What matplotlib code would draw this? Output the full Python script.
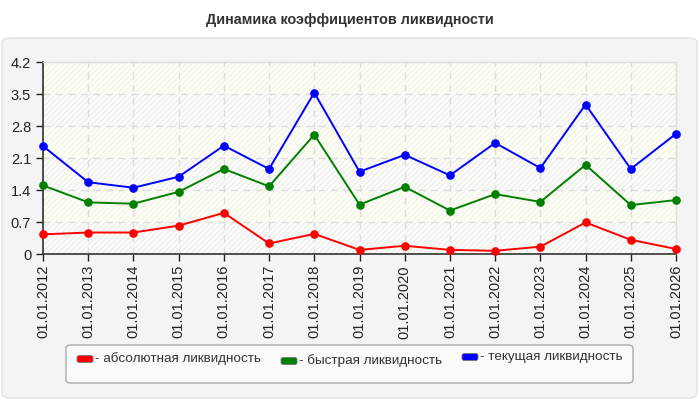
import matplotlib
matplotlib.use("Agg")
import matplotlib.pyplot as plt
from matplotlib.patches import FancyBboxPatch
import matplotlib as mpl

plt.rcParams['font.family'] = ['Liberation Sans', 'DejaVu Sans']
mpl.rcParams['hatch.linewidth'] = 0.6

title = "Динамика коэффициентов ликвидности"
dates = ["01.01.%d" % y for y in range(2012, 2027)]
absolute = [0.43, 0.47, 0.47, 0.62, 0.90, 0.23, 0.44, 0.09, 0.18, 0.09, 0.07, 0.16, 0.69, 0.31, 0.11]
quick = [1.50, 1.13, 1.10, 1.36, 1.86, 1.48, 2.61, 1.08, 1.47, 0.95, 1.31, 1.14, 1.95, 1.07, 1.18]
current = [2.36, 1.57, 1.45, 1.69, 2.37, 1.86, 3.53, 1.80, 2.17, 1.72, 2.43, 1.88, 3.27, 1.86, 2.63]
series_names = ["- абсолютная ликвидность", "- быстрая ликвидность", "- текущая ликвидность"]
yticks = [0, 0.7, 1.4, 2.1, 2.8, 3.5, 4.2]
ytick_labels = ["0", "0.7", "1.4", "2.1", "2.8", "3.5", "4.2"]

fig = plt.figure(figsize=(7, 4), dpi=100)
fig.patch.set_facecolor('white')

# panel
panel = FancyBboxPatch((2/700, 2/400), 695/700, 360/400,
                       boxstyle="round,pad=0,rounding_size=0.012",
                       transform=fig.transFigure, facecolor='#f4f4f4',
                       edgecolor='#e2e2e2', linewidth=1.0, zorder=-5)
fig.patches.append(panel)

fig.text(0.5, 1 - 20/400, title, ha='center', va='center', fontsize=10.4,
         fontweight='bold', color='#333333')

ax = fig.add_axes([43/700, 1 - 254/400, 633/700, 192/400])
ax.set_zorder(2)
ax.set_facecolor('#fcfdf5')
x = list(range(len(dates)))

# banded hatched background
for i in range(len(yticks) - 1):
    lo, hi = yticks[i], yticks[i + 1]
    if i % 2 == 0:
        ax.axhspan(lo, hi, facecolor='#fbfbf8', edgecolor='#e8e8e8', hatch='//////', linewidth=0, zorder=0)
    else:
        ax.axhspan(lo, hi, facecolor='#fcfdf5', edgecolor='#f0f0e4', hatch='//////', linewidth=0, zorder=0)

ax.grid(True, color='#dddddd', linestyle=(0, (5, 4)), linewidth=1.0, zorder=1)
ax.set_axisbelow(True)

colors = ['#ff0000', '#008000', '#0000ff']
for vals, c in zip([absolute, quick, current], colors):
    ax.plot(x, vals, color=c, linewidth=1.4, marker='o', markersize=5.2, zorder=3, clip_on=False)

ax.set_xlim(0, len(dates) - 1)
ax.set_ylim(0, 4.2)
ax.set_yticks(yticks)
ax.set_yticklabels(ytick_labels)
ax.set_xticks(x)
ax.set_xticklabels(dates, rotation=90)
ax.tick_params(axis='both', labelsize=10.5, colors='#222222', length=5, width=1, direction='out')
ax.tick_params(axis='x', pad=3)

for s in ['left', 'bottom']:
    ax.spines[s].set_color('#333333')
    ax.spines[s].set_linewidth(1.2)
for s in ['top', 'right']:
    ax.spines[s].set_color('#dddddd')
    ax.spines[s].set_linewidth(1.0)

# legend box
lb = FancyBboxPatch((66/700, 1 - 383/400), 567/700, 38/400,
                    boxstyle="round,pad=0,rounding_size=0.008",
                    transform=fig.transFigure, facecolor='#fafafa',
                    edgecolor='#aaaaaa', linewidth=1.0, zorder=1)
fig.patches.append(lb)

entries = [(77, 359), (281, 361), (462, 357)]
for (px, py), c, name in zip(entries, colors, series_names):
    sw = FancyBboxPatch((px/700, 1 - (py + 3.5)/400), 16/700, 7/400,
                        boxstyle="round,pad=0,rounding_size=0.004",
                        transform=fig.transFigure, facecolor=c,
                        edgecolor='#777777', linewidth=0.6, zorder=2)
    fig.patches.append(sw)
    fig.text((px + 18)/700, 1 - py/400, name, ha='left', va='center',
             fontsize=9.7, color='#333333', zorder=3)

fig.savefig('out.png', dpi=100, facecolor=fig.get_facecolor())
